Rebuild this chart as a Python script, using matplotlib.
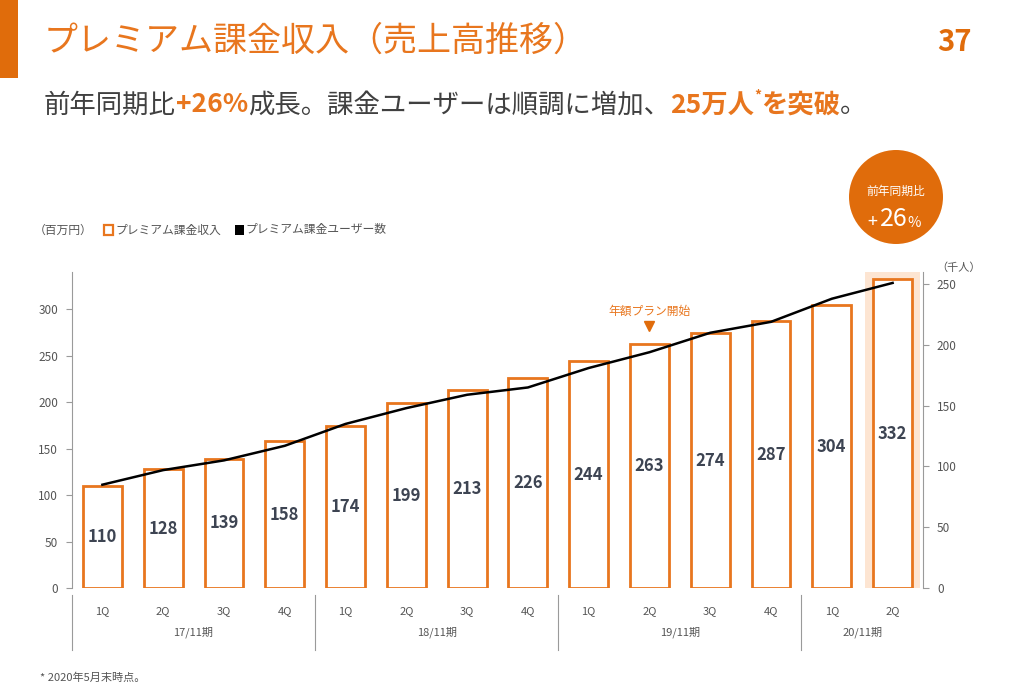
import numpy as np
import matplotlib
matplotlib.use("Agg")
import matplotlib.pyplot as plt
from matplotlib.patches import Rectangle, Circle
from matplotlib.transforms import IdentityTransform, blended_transform_factory

plt.rcParams['font.family'] = ['Noto Sans CJK JP', 'DejaVu Sans']

quarters = ["1Q", "2Q", "3Q", "4Q", "1Q", "2Q", "3Q", "4Q", "1Q", "2Q", "3Q", "4Q", "1Q", "2Q"]
fiscal_years = ["17/11期", "18/11期", "19/11期", "20/11期"]
year_spans = [(0, 3), (4, 7), (8, 11), (12, 13)]
revenue = [110, 128, 139, 158, 174, 199, 213, 226, 244, 263, 274, 287, 304, 332]
users = [85, 97, 105, 117, 135, 148, 159, 165, 181, 194, 210, 219, 238, 251]

ORANGE = "#E8761E"
DARK_ORANGE = "#E06C0B"
TEXT = "#404040"
LABEL = "#555555"
W, H = 1021, 694

fig = plt.figure(figsize=(W / 100, H / 100), dpi=100)


def px(x, y):
    return x / W, 1 - y / H


ax = fig.add_axes([72 / W, 1 - 588 / H, (923 - 72) / W, 316 / H])
ax2 = ax.twinx()

x = np.arange(len(revenue))
ax.add_patch(Rectangle((12.55, 0), 0.9, 340, color="#FDE5D2", lw=0, zorder=0))
ax.bar(x, revenue, width=0.64, facecolor="white", edgecolor=ORANGE, linewidth=2, zorder=2)
for i, v in enumerate(revenue):
    ax.text(i, v / 2, str(v), ha="center", va="center", fontsize=12,
            fontweight="bold", color="#3d4452", zorder=3)

ax2.plot(x, users, color="black", lw=1.8, zorder=4)

ax.set_xlim(-0.5, 13.5)
ax.set_ylim(0, 340)
ax2.set_ylim(0, 260)
ax.set_yticks(range(0, 301, 50))
ax2.set_yticks(range(0, 251, 50))

for a in (ax, ax2):
    for s in ("top", "bottom"):
        a.spines[s].set_visible(False)
ax.spines["right"].set_visible(False)
ax2.spines["left"].set_visible(False)
ax.spines["left"].set_color("#9a9a9a")
ax2.spines["right"].set_color("#9a9a9a")
ax.tick_params(axis="y", colors="#9a9a9a", labelcolor=LABEL, labelsize=8.5, length=4, pad=6)
ax2.tick_params(axis="y", colors="#9a9a9a", labelcolor=LABEL, labelsize=8.5, length=4, pad=6)

ax.set_xticks(x)
ax.set_xticklabels(quarters, fontsize=8, color=LABEL)
ax.tick_params(axis="x", length=0, pad=13)

trans = blended_transform_factory(ax.transData, ax.transAxes)
for label, (a, b) in zip(fiscal_years, year_spans):
    ax.text((a + b) / 2, -0.14, label, transform=trans, ha="center", va="center",
            fontsize=8, color=LABEL)
for sep in (-0.5, 3.5, 7.5, 11.5):
    ax.plot([sep, sep], [-0.022, -0.196], transform=trans, color="#9a9a9a", lw=0.8, clip_on=False)

# annotation
ax.text(9, 298, "年額プラン開始", ha="center", va="center", fontsize=8.5, color=ORANGE)
ax.plot([9], [282], marker="v", color=DARK_ORANGE, markersize=7, clip_on=False)

# header
fig.add_artist(Rectangle((0, 1 - 78 / H), 18 / W, 78 / H, transform=fig.transFigure, color=DARK_ORANGE, lw=0))
fig.text(*px(44, 41), "プレミアム課金収入（売上高推移）", fontsize=24.5, color=ORANGE, va="center")
fig.text(*px(972, 42), "37", fontsize=21, color=DARK_ORANGE, fontweight="bold", va="center", ha="right")

# subtitle pieces
parts = [("前年同期比", TEXT, "normal", 19), ("+26%", ORANGE, "bold", 19),
         ("成長。課金ユーザーは順調に増加、", TEXT, "normal", 19),
         ("25万人", ORANGE, "bold", 19), ("*", ORANGE, "bold", 10),
         ("を突破", ORANGE, "bold", 19), ("。", TEXT, "normal", 19)]
renderer = fig.canvas.get_renderer()
cx = 44
for s, c, w, fs in parts:
    yy = 105 if fs > 12 else 96
    t = fig.text(*px(cx, yy), s, fontsize=fs, color=c, fontweight=w, va="center")
    bb = t.get_window_extent(renderer)
    cx += bb.width

# legend row
fig.text(*px(34, 230), "（百万円）", fontsize=8.5, color=LABEL, va="center")
fig.add_artist(Rectangle(px(104, 235), 9 / W, 10 / H, transform=fig.transFigure,
                         facecolor="white", edgecolor=ORANGE, lw=1.6))
fig.text(*px(115, 230), "プレミアム課金収入", fontsize=8.5, color=LABEL, va="center")
fig.add_artist(Rectangle(px(235, 235), 9 / W, 10 / H, transform=fig.transFigure,
                         facecolor="black", lw=0))
fig.text(*px(245, 230), "プレミアム課金ユーザー数", fontsize=8.5, color=LABEL, va="center")
fig.text(*px(936, 268), "（千人）", fontsize=8, color=LABEL, va="center")

# badge
fig.add_artist(Circle((896, H - 197), 47, transform=IdentityTransform(), color=DARK_ORANGE, lw=0))
fig.text(*px(896, 191), "前年同期比", fontsize=8.5, color="white", ha="center", va="center")
fig.text(*px(872, 222), "+", fontsize=13, color="white", ha="center", va="center")
fig.text(*px(894, 219), "26", fontsize=18, color="white", ha="center", va="center")
fig.text(*px(914, 223), "%", fontsize=10.5, color="white", ha="center", va="center")

fig.text(*px(40, 678), "* 2020年5月末時点。", fontsize=8, color=LABEL, va="center")

fig.savefig("out.png", dpi=100)
